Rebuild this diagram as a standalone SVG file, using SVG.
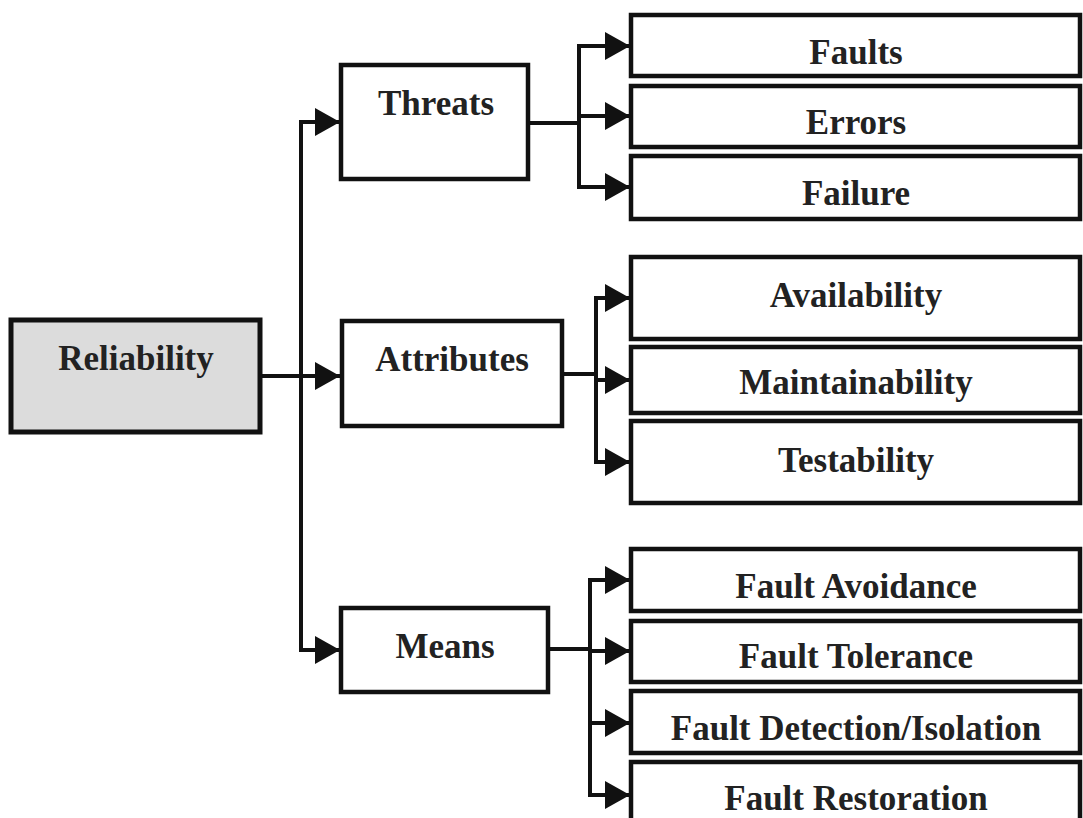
<svg xmlns="http://www.w3.org/2000/svg" width="1083" height="818" viewBox="0 0 1083 818">
<style>
.box{fill:#fff;stroke:#111;stroke-width:4.5}
.root{fill:#dcdcdc;stroke:#111;stroke-width:5}
.t{font-family:"Liberation Serif","Times New Roman",serif;font-weight:bold;font-size:35px;fill:#222;text-anchor:middle}
.c{fill:none;stroke:#111;stroke-width:4}
.a{fill:none;stroke:#111;stroke-width:4;marker-end:url(#ah)}
</style>
<defs>
<marker id="ah" viewBox="0 0 25 28" refX="25" refY="14" markerWidth="25" markerHeight="28" markerUnits="userSpaceOnUse" orient="auto">
<path d="M0,0 L25,14 L0,28 Z" fill="#111"/>
</marker>
</defs>
<rect width="1083" height="818" fill="#fff"/>
<g id="connectors">
<path class="c" d="M260,376 H301"/>
<path class="a" d="M260,376 H340"/>
<path class="a" d="M301,376 V122 H340"/>
<path class="a" d="M301,376 V650 H340"/>
<path class="c" d="M528,123 H579"/>
<path class="a" d="M579,123 V46 H630"/>
<path class="a" d="M579,116 H630"/>
<path class="a" d="M579,123 V187 H630"/>
<path class="c" d="M562,374 H596"/>
<path class="a" d="M596,374 V298 H630"/>
<path class="a" d="M596,380 H630"/>
<path class="a" d="M596,374 V462 H630"/>
<path class="c" d="M548,649 H590"/>
<path class="a" d="M590,649 V580 H630"/>
<path class="a" d="M590,651 H630"/>
<path class="a" d="M590,649 V723 H630"/>
<path class="a" d="M590,649 V795 H630"/>
</g>
<g id="reliability"><rect class="root" x="11" y="320" width="249" height="112"/><text class="t" x="136" y="370">Reliability</text></g>
<g id="threats"><rect class="box" x="341" y="65" width="187" height="114"/><text class="t" x="436" y="115">Threats</text></g>
<g id="attributes"><rect class="box" x="342" y="321" width="220" height="105"/><text class="t" x="452" y="371">Attributes</text></g>
<g id="means"><rect class="box" x="341" y="608" width="207" height="84"/><text class="t" x="445" y="658">Means</text></g>
<g id="faults"><rect class="box" x="631" y="15" width="449" height="61"/><text class="t" x="856" y="64">Faults</text></g>
<g id="errors"><rect class="box" x="631" y="86" width="449" height="61"/><text class="t" x="856" y="134">Errors</text></g>
<g id="failure"><rect class="box" x="631" y="156" width="449" height="63"/><text class="t" x="856" y="205">Failure</text></g>
<g id="availability"><rect class="box" x="631" y="257" width="449" height="82"/><text class="t" x="856" y="307">Availability</text></g>
<g id="maintainability"><rect class="box" x="631" y="347" width="449" height="66"/><text class="t" x="856" y="394">Maintainability</text></g>
<g id="testability"><rect class="box" x="631" y="421" width="449" height="82"/><text class="t" x="856" y="472">Testability</text></g>
<g id="fault-avoidance"><rect class="box" x="631" y="549" width="449" height="62"/><text class="t" x="856" y="598">Fault Avoidance</text></g>
<g id="fault-tolerance"><rect class="box" x="631" y="621" width="449" height="61"/><text class="t" x="856" y="668">Fault Tolerance</text></g>
<g id="fault-detection"><rect class="box" x="631" y="691" width="449" height="62"/><text class="t" x="856" y="740">Fault Detection/Isolation</text></g>
<g id="fault-restoration"><rect class="box" x="631" y="762" width="449" height="70"/><text class="t" x="856" y="810">Fault Restoration</text></g>
</svg>
